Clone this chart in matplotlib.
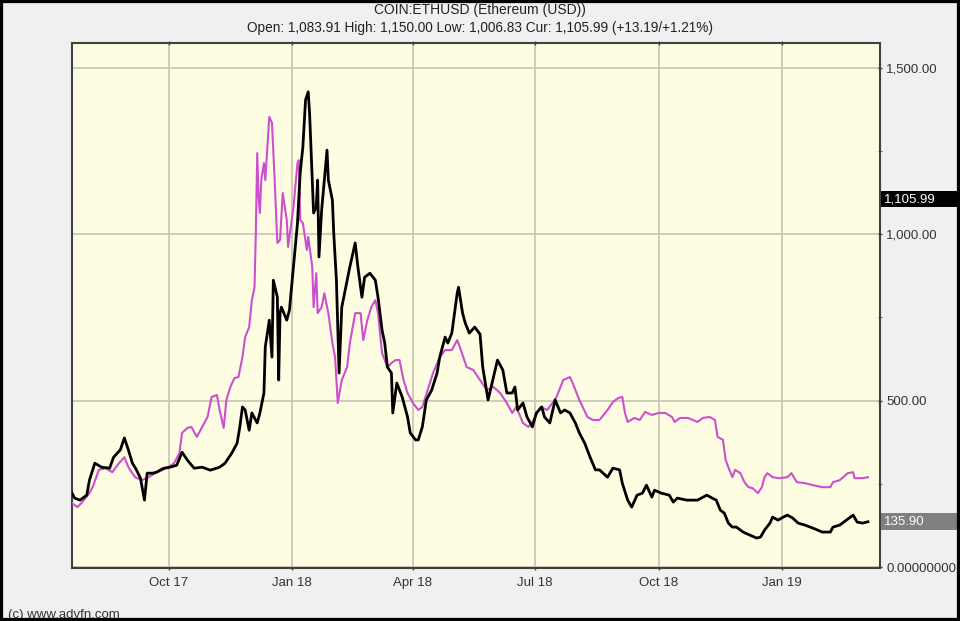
import matplotlib
matplotlib.use("Agg")
from matplotlib import pyplot as plt
import matplotlib.dates as mdates
from matplotlib.patches import Rectangle
from matplotlib import transforms
import pandas as pd

plt.rcParams['font.family'] = ['Liberation Sans', 'DejaVu Sans']

start_date = pd.Timestamp('2017-07-21')
end_date = pd.Timestamp('2019-03-15')

title = 'COIN:ETHUSD (Ethereum (USD))'
subtitle = 'Open: 1,083.91 High: 1,150.00 Low: 1,006.83 Cur: 1,105.99 (+13.19/+1.21%)'
cur_price = 1105.99

# ETH price, days since start_date
eth_day = [0, 2, 6, 11, 13, 17, 22, 28, 31, 36, 39, 42, 45, 48, 51, 54, 56, 60, 63, 69,
           73, 78, 82, 86, 91, 97, 103, 110, 114, 119, 123, 125, 127, 129, 132, 134, 138, 140, 143, 144,
           147, 149, 150, 153, 154, 155, 156, 160, 162, 165, 168, 170, 172, 174, 176, 177, 179, 180, 182, 183,
           184, 186, 190, 191, 194, 195, 197, 199, 201, 205, 207, 211, 213, 216, 218, 222, 226, 228, 231, 233,
           235, 238, 239, 242, 246, 250, 252, 256, 258, 261, 264, 268, 272, 274, 278, 280, 283, 287, 288, 291,
           293, 296, 300, 304, 306, 310, 314, 317, 321, 324, 328, 330, 332, 336, 339, 343, 346, 350, 352, 356,
           360, 364, 367, 371, 375, 378, 382, 386, 390, 393, 399, 403, 408, 410, 414, 417, 421, 425, 428, 432,
           434, 439, 445, 448, 451, 458, 466, 473, 477, 480, 483, 486, 489, 492, 495, 500, 505, 510, 513, 516,
           520, 522, 526, 530, 533, 537, 541, 546, 552, 559, 565, 567, 572, 577, 582, 585, 589, 593]
eth_val = [222, 207, 201, 216, 261, 312, 300, 297, 330, 352, 388, 352, 312, 292, 267, 201, 282, 282, 285, 297,
           300, 306, 345, 321, 297, 300, 291, 300, 312, 342, 372, 420, 481, 472, 411, 463, 433, 463, 523, 661,
           742, 631, 862, 811, 562, 763, 781, 742, 772, 902, 1034, 1184, 1262, 1404, 1428, 1365, 1163, 1064, 1082, 1163,
           932, 1073, 1253, 1163, 1103, 1004, 862, 583, 781, 862, 902, 974, 902, 811, 871, 883, 862, 811, 712, 673,
           601, 583, 463, 553, 511, 451, 403, 382, 382, 421, 502, 532, 583, 631, 691, 673, 703, 823, 841, 763,
           733, 703, 721, 700, 601, 502, 571, 622, 592, 523, 523, 541, 472, 493, 451, 421, 463, 481, 451, 433,
           502, 463, 472, 463, 433, 403, 372, 330, 292, 292, 270, 297, 292, 252, 201, 180, 216, 222, 246, 210,
           231, 222, 216, 195, 207, 201, 201, 216, 207, 201, 171, 162, 132, 120, 120, 105, 96, 87, 90, 111,
           132, 150, 141, 150, 156, 147, 132, 126, 117, 105, 105, 120, 126, 141, 156, 135, 132, 135.9]

# comparison series (magenta)
cmp_day = [0, 4, 7, 13, 16, 20, 25, 30, 35, 39, 42, 47, 52, 57, 62, 67, 72, 76, 80, 82,
           86, 89, 93, 97, 101, 104, 108, 110, 113, 115, 118, 121, 124, 127, 129, 132, 134, 136, 137, 138,
           139, 140, 141, 143, 144, 147, 149, 151, 153, 155, 157, 160, 161, 162, 165, 168, 169, 170, 172, 175,
           176, 179, 180, 182, 183, 186, 188, 191, 194, 196, 198, 201, 205, 207, 211, 215, 217, 220, 223, 226,
           228, 231, 235, 238, 241, 244, 247, 250, 254, 258, 261, 265, 269, 274, 278, 283, 287, 289, 294, 299,
           304, 309, 314, 319, 324, 328, 331, 336, 340, 343, 349, 354, 358, 361, 366, 371, 373, 378, 384, 388,
           393, 399, 403, 407, 410, 412, 414, 419, 423, 427, 432, 437, 442, 447, 449, 453, 459, 466, 470, 475,
           479, 481, 485, 487, 489, 492, 494, 498, 501, 504, 507, 511, 514, 516, 518, 522, 527, 533, 536, 540,
           546, 552, 559, 565, 567, 572, 578, 582, 583, 589, 593]
cmp_val = [192, 180, 192, 222, 246, 292, 297, 285, 312, 330, 300, 270, 261, 270, 282, 297, 300, 312, 342, 403,
           418, 421, 391, 421, 451, 511, 517, 472, 418, 502, 541, 568, 571, 631, 691, 721, 802, 841, 1013, 1244,
           1112, 1064, 1163, 1214, 1163, 1353, 1335, 1163, 974, 983, 1124, 1043, 962, 992, 1082, 1214, 1223, 1043, 1034, 953,
           992, 902, 781, 883, 763, 781, 823, 763, 673, 631, 493, 562, 601, 673, 763, 763, 682, 742, 781, 802,
           763, 643, 601, 613, 622, 622, 562, 523, 493, 472, 481, 532, 583, 631, 652, 652, 682, 661, 601, 592,
           562, 532, 541, 523, 493, 463, 481, 433, 421, 436, 481, 472, 493, 511, 562, 571, 553, 502, 451, 442,
           442, 472, 496, 508, 511, 463, 436, 448, 442, 466, 457, 463, 463, 451, 436, 448, 448, 436, 448, 451,
           442, 391, 382, 322, 300, 270, 292, 282, 255, 240, 237, 222, 240, 270, 282, 270, 267, 270, 282, 255,
           252, 246, 240, 240, 255, 261, 282, 285, 267, 267, 270]

y_ticks = [0, 500, 1000, 1500]
y_labels = ['0.00000000', '500.00', '1,000.00', '1,500.00']

eth_dates = start_date + pd.to_timedelta(eth_day, unit='D')
cmp_dates = start_date + pd.to_timedelta(cmp_day, unit='D')

W, H = 960, 621
fig = plt.figure(figsize=(W / 100, H / 100), dpi=100, facecolor='#f0f0f0')
ax = fig.add_axes([72 / W, 1 - 568 / H, 808 / W, 525 / H])
ax.set_facecolor('#fffde1')

ax.plot(cmp_dates, cmp_val, color='#cd4fd0', lw=1.5, zorder=3)
ax.plot(eth_dates, eth_val, color='black', lw=2.0, zorder=4)

ax.set_xlim(start_date, end_date)
ax.set_ylim(-3, 1575)

ax.xaxis.set_major_locator(mdates.MonthLocator(bymonth=[1, 4, 7, 10]))
ax.xaxis.set_major_formatter(mdates.DateFormatter('%b %y'))
ax.yaxis.tick_right()
ax.set_yticks(y_ticks)
ax.set_yticklabels(y_labels)
ax.set_yticks([250, 750, 1250], minor=True)
ax.grid(True, color='#c8c8b8', lw=1.3, zorder=1)
ax.tick_params(axis='both', colors='#404040', labelcolor='#333333', labelsize=9.5,
               length=3, width=1, direction='inout', top=True)
ax.tick_params(axis='y', which='minor', length=3, direction='inout', colors='#404040')
ax.tick_params(axis='y', pad=3)
ax.tick_params(axis='x', pad=5)
for s in ax.spines.values():
    s.set_color('#404040')
    s.set_linewidth(1.5)

# price flags on the right edge
tr = transforms.blended_transform_factory(fig.transFigure, ax.transData)
for val, txt, col in [(cur_price, '1,105.99', 'black'), (eth_val[-1], '%.2f' % eth_val[-1], '#808080')]:
    fig.patches.append(Rectangle((881 / W, val - 25), 1 - 881 / W, 50, transform=tr,
                                 facecolor=col, edgecolor='none', zorder=5))
    fig.text(884 / W, val, txt, transform=tr, color='white', fontsize=9.5,
             va='center', ha='left', zorder=6)

fig.text(0.5, 1 - 10 / H, title, ha='center', va='center', fontsize=10, color='#222222')
fig.text(0.5, 1 - 28 / H, subtitle, ha='center', va='center', fontsize=9.8, color='#222222')
fig.text(8 / W, 1 - 615 / H, '(c) www.advfn.com', ha='left', va='center', fontsize=9.5, color='#333333')

fig.patches.append(Rectangle((0, 0), 1, 1, transform=fig.transFigure, fill=False,
                             edgecolor='black', lw=4.5, zorder=10))

fig.savefig('out.png', dpi=100, facecolor=fig.get_facecolor())
